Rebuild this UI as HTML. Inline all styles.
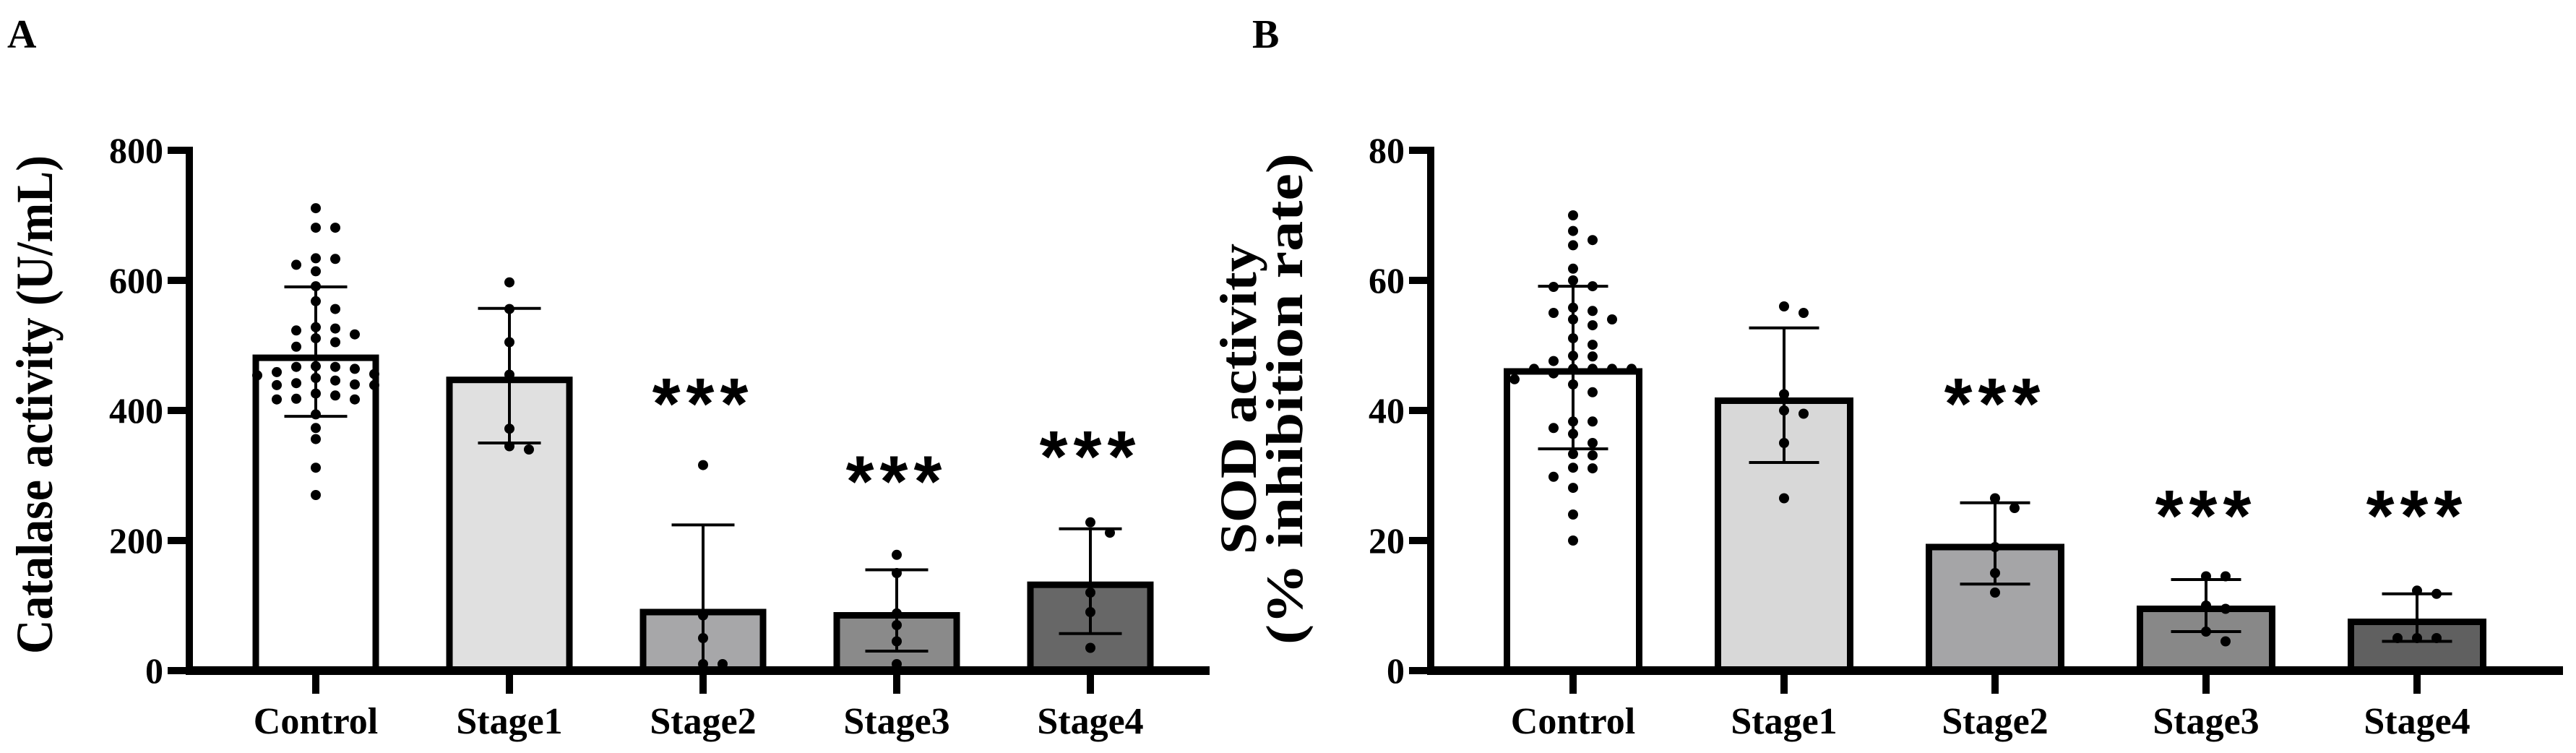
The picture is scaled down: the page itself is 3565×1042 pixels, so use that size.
<!DOCTYPE html>
<html><head><meta charset="utf-8"><style>
html,body{margin:0;padding:0;background:#fff;}
svg{display:block;}
text{font-family:"Liberation Serif",serif;font-weight:bold;fill:#000;}
</style></head><body>
<svg id="chart" width="3565" height="1042" viewBox="0 0 3565 1042" xmlns="http://www.w3.org/2000/svg">
<text x="10" y="66" font-size="56">A</text>
<text x="1733" y="66" font-size="56">B</text>
<text transform="translate(72,560) rotate(-90)" text-anchor="middle" font-size="72" textLength="690" lengthAdjust="spacingAndGlyphs">Catalase activity (U/mL)</text>
<text transform="translate(1738,552) rotate(-90)" text-anchor="middle" font-size="72" textLength="430" lengthAdjust="spacingAndGlyphs">SOD activity</text>
<text transform="translate(1802,552) rotate(-90)" text-anchor="middle" font-size="72" textLength="680" lengthAdjust="spacingAndGlyphs">(% inhibition rate)</text>
<g id="pa"></g><g id="pb"></g>
</svg>
<script>
const categories = ["Control","Stage1","Stage2","Stage3","Stage4"];
const ticksA = [0,200,400,600,800];
const ticksB = [0,20,40,60,80];
const meansA = [486,452,95,90,137];
const lowA = [391,350,-34,30,57];
const highA = [590,557,224,155,218];
const starsA = [null,null,412,293,331];
const pointsA = [
 [711,681,681,634,633,614,624,591,568,556,528,511,523,505,517,498,526,467,446,426,467,439,417,394,373,356,312,270,454,439,417,464,442,418,459,440,423,456,468,450],
 [597,556,505,455,372,340,345],
 [316,85,50,10,10],
 [178,150,88,70,45,10],
 [228,212,120,90,35]];
const meansB = [46.5,42,19.5,10,8];
const lowB = [34.1,32,13.3,6,4.5];
const highB = [59.1,52.7,25.8,14,11.8];
const starsB = [null,null,41.2,24,24];
const pointsB = [
 [70,67.6,66.2,65.4,61.8,60,59,59.1,55.3,55.8,54,54,55,53.1,51.1,50.1,48.4,48.3,47.6,46.4,46.4,46.4,46.4,46.4,45.7,44.8,44,42.8,38.3,38.3,37.3,36.4,35,33.3,33.1,31.2,31.1,29.8,28.1,24,20],
 [56,55,42.5,40,39.5,35,26.5],
 [26.5,25,19,15,12],
 [14.5,14.5,10,9.5,6,4.5],
 [12.3,11.8,5,5,5]];
const fillsA = ["#ffffff","#e0e0e0","#a7a7a9","#8a8a8a","#676767"];
const fillsB = ["#ffffff","#d8d8d8","#a5a5a7","#888888","#606060"];
const NS="http://www.w3.org/2000/svg";
function mk(parent,tag,attrs){const e=document.createElementNS(NS,tag);for(const k in attrs)e.setAttribute(k,attrs[k]);parent.appendChild(e);return e;}
function panel(g,o){
  const y=v=>928-(v/o.max)*720;
  const x=i=>o.x0+i*o.step;
  categories.forEach((c,i)=>{
    const top=y(o.means[i]);
    const r=mk(g,'rect',{x:x(i)-o.bw/2+4.5,y:top+4.5,width:o.bw-9,height:928-top-4.5,fill:o.fills[i],stroke:'#000','stroke-width':9});
    
    
  });
  categories.forEach((c,i)=>{
    const lo=Math.max(o.low[i],0),hi=o.high[i];
    const eg=mk(g,'g',{stroke:'#000','stroke-width':4});
    
    
    mk(eg,'line',{x1:x(i),x2:x(i),y1:y(lo),y2:y(hi)});
    mk(eg,'line',{x1:x(i)-o.cw/2,x2:x(i)+o.cw/2,y1:y(hi),y2:y(hi)});
    if(o.low[i]>0) mk(eg,'line',{x1:x(i)-o.cw/2,x2:x(i)+o.cw/2,y1:y(o.low[i]),y2:y(o.low[i])});
  });
  categories.forEach((c,i)=>{
    const placed=[];
    const vals=o.points[i].slice().sort((a,b)=>b-a);
    vals.forEach(v=>{
      const py=y(v);let px=x(i);
      for(let k=0;k<20;k++){
        const off=(k%2?1:-1)*Math.ceil(k/2)*27;
        const cand=x(i)+off;
        if(!placed.some(p=>Math.hypot(p[0]-cand,p[1]-py)<15)){px=cand;break;}
      }
      placed.push([px,py]);
      const d=mk(g,'circle',{cx:px,cy:py,r:7,fill:'#000'});
      
      
    });
  });
  categories.forEach((c,i)=>{
    if(o.stars[i]==null)return;
    const t=mk(g,'text',{x:x(i),y:y(o.stars[i])+36,'text-anchor':'middle','font-size':100,'letter-spacing':8,style:'font-family:"Liberation Sans",sans-serif'});
    t.textContent='***';
    
    
  });
  const ax=mk(g,'line',{x1:o.ax,x2:o.ax,y1:203,y2:934,stroke:'#000','stroke-width':10});
  
  
  const xa=mk(g,'line',{x1:o.ax-5,x2:o.xend,y1:928,y2:928,stroke:'#000','stroke-width':12});
  
  
  o.ticks.forEach(t=>{
    const tl=mk(g,'line',{x1:o.ax-30,x2:o.ax,y1:y(t),y2:y(t),stroke:'#000','stroke-width':10});
    
    
    const tx=mk(g,'text',{x:o.ax-36,y:y(t)+17,'text-anchor':'end','font-size':50});
    tx.textContent=t;
    
    
  });
  categories.forEach((c,i)=>{
    const tl=mk(g,'line',{x1:x(i),x2:x(i),y1:932,y2:960,stroke:'#000','stroke-width':10});
    
    
    const tx=mk(g,'text',{x:x(i),y:1015,'text-anchor':'middle','font-size':52});
    tx.textContent=c;
    
    
  });
}
panel(document.getElementById('pa'),{max:800,x0:437,step:268,bw:175,cw:87,ax:262,xend:1674,means:meansA,low:lowA,high:highA,stars:starsA,points:pointsA,fills:fillsA,ticks:ticksA});
panel(document.getElementById('pb'),{max:80,x0:2177,step:292,bw:192,cw:97,ax:1980,xend:3547,means:meansB,low:lowB,high:highB,stars:starsB,points:pointsB,fills:fillsB,ticks:ticksB});
</script>
</body></html>
